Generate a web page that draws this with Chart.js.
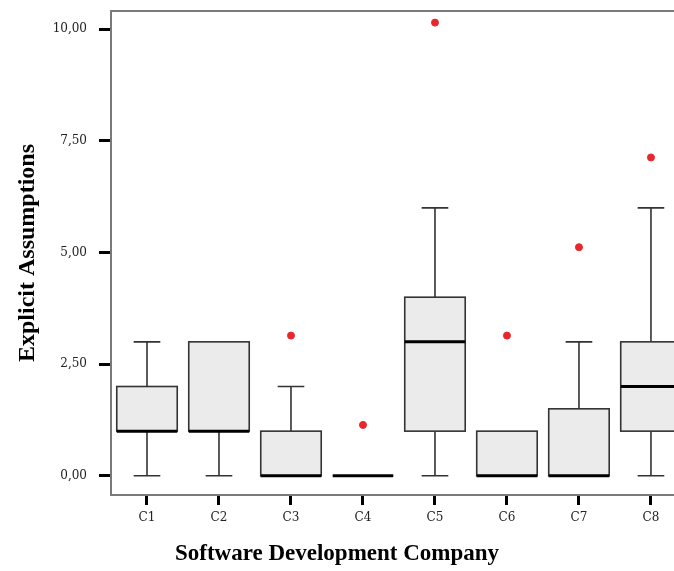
<!DOCTYPE html>
<html>
<head>
<meta charset="utf-8">
<script src="https://cdn.jsdelivr.net/npm/chart.js@4.4.0/dist/chart.umd.min.js"></script>
<style>
  html, body { margin: 0; padding: 0; background: #fff; }
  #wrap { width: 674px; height: 571px; }
</style>
</head>
<body>
<div id="wrap"><canvas id="box-chart"></canvas></div>
<script>
const categories = ['C1', 'C2', 'C3', 'C4', 'C5', 'C6', 'C7', 'C8'];
const whiskerLow = [0, 0, 0, 0, 0, 0, 0, 0];
const quartile1 = [1, 1, 0, 0, 1, 0, 0, 1];
const medians = [1, 1, 0, 0, 3, 0, 0, 2];
const quartile3 = [2, 3, 1, 0, 4, 1, 1.5, 3];
const whiskerHigh = [3, 3, 2, 0, 6, 1, 3, 6];
const outliers = [null, null, 3.14, 1.14, 10.15, 3.14, 5.12, 7.13];
const yTicks = [0, 2.5, 5, 7.5, 10];

const tickFont = { family: 'DejaVu Serif', size: 12 };

// boxes, whiskers and medians drawn under the outlier points
const boxPlotPlugin = {
  id: 'boxPlot',
  beforeDatasetsDraw(chart) {
    const { ctx, chartArea, scales: { x, y } } = chart;
    ctx.save();

    // top frame line
    ctx.strokeStyle = '#7a7a7a';
    ctx.lineWidth = 2;
    ctx.beginPath();
    ctx.moveTo(chartArea.left, chartArea.top);
    ctx.lineTo(chartArea.right, chartArea.top);
    ctx.stroke();

    categories.forEach((c, i) => {
      const pos = i + 1;
      const cx = x.getPixelForValue(pos);
      const bl = x.getPixelForValue(pos - 0.42);
      const br = x.getPixelForValue(pos + 0.42);
      const cl = x.getPixelForValue(pos - 0.185);
      const cr = x.getPixelForValue(pos + 0.185);
      const yLo = y.getPixelForValue(whiskerLow[i]);
      const yQ1 = y.getPixelForValue(quartile1[i]);
      const yMed = y.getPixelForValue(medians[i]);
      const yQ3 = y.getPixelForValue(quartile3[i]);
      const yHi = y.getPixelForValue(whiskerHigh[i]);

      ctx.strokeStyle = '#333';
      ctx.lineWidth = 1.6;
      if (whiskerHigh[i] > quartile3[i]) {
        ctx.beginPath();
        ctx.moveTo(cx, yQ3); ctx.lineTo(cx, yHi);
        ctx.moveTo(cl, yHi); ctx.lineTo(cr, yHi);
        ctx.stroke();
      }
      if (whiskerLow[i] < quartile1[i]) {
        ctx.beginPath();
        ctx.moveTo(cx, yQ1); ctx.lineTo(cx, yLo);
        ctx.moveTo(cl, yLo); ctx.lineTo(cr, yLo);
        ctx.stroke();
      }

      ctx.fillStyle = '#ebebeb';
      ctx.fillRect(bl, yQ3, br - bl, yQ1 - yQ3);
      ctx.strokeRect(bl, yQ3, br - bl, yQ1 - yQ3);

      ctx.strokeStyle = '#000';
      ctx.lineWidth = 3;
      ctx.beginPath();
      ctx.moveTo(bl, yMed); ctx.lineTo(br, yMed);
      ctx.stroke();
    });

    ctx.restore();
  }
};

const outlierPoints = categories
  .map((c, i) => (outliers[i] === null ? null : { x: i + 1, y: outliers[i] }))
  .filter(p => p !== null);

new Chart(document.getElementById('box-chart'), {
  type: 'scatter',
  data: {
    datasets: [{
      label: 'Outliers',
      data: outlierPoints,
      pointRadius: 3.5,
      pointBackgroundColor: '#e8262c',
      pointBorderColor: '#e8262c',
      pointBorderWidth: 1,
      clip: false
    }]
  },
  plugins: [boxPlotPlugin],
  options: {
    responsive: true,
    maintainAspectRatio: false,
    animation: false,
    layout: { autoPadding: false, padding: { top: 11, right: 0, bottom: 0, left: 0 } },
    plugins: {
      legend: { display: false },
      tooltip: { enabled: false },
      title: {
        display: true,
        position: 'bottom',
        text: 'Software Development Company',
        color: '#000',
        font: { family: 'Liberation Serif', size: 23, weight: 'bold' },
        padding: { top: 0, bottom: 3 }
      }
    },
    scales: {
      x: {
        type: 'linear',
        min: 0.5,
        max: 8.32,
        afterBuildTicks: s => { s.ticks = categories.map((c, i) => ({ value: i + 1 })); },
        afterFit: s => { s.height = 45.4; s.paddingLeft = 0; s.paddingRight = 0; },
        ticks: {
          callback: v => categories[v - 1],
          color: '#222',
          font: tickFont,
          padding: 6,
          maxRotation: 0,
          autoSkip: false
        },
        grid: { drawOnChartArea: false, tickLength: 10, tickWidth: 3, tickColor: '#000' },
        border: { color: '#7a7a7a', width: 2 }
      },
      y: {
        type: 'linear',
        min: -0.43,
        max: 10.41,
        afterBuildTicks: s => { s.ticks = yTicks.map(v => ({ value: v })); },
        afterFit: s => { s.width = 111; s.paddingTop = 0; s.paddingBottom = 0; },
        ticks: {
          callback: v => v.toFixed(2).replace('.', ','),
          color: '#222',
          font: tickFont,
          padding: 12
        },
        grid: { drawOnChartArea: false, tickLength: 12, tickWidth: 3, tickColor: '#000' },
        border: { color: '#7a7a7a', width: 2 },
        title: {
          display: true,
          text: 'Explicit Assumptions',
          color: '#000',
          font: { family: 'Liberation Serif', size: 24, weight: 'bold' },
          padding: { top: 13, bottom: 0 }
        }
      }
    }
  }
});
</script>
</body>
</html>
